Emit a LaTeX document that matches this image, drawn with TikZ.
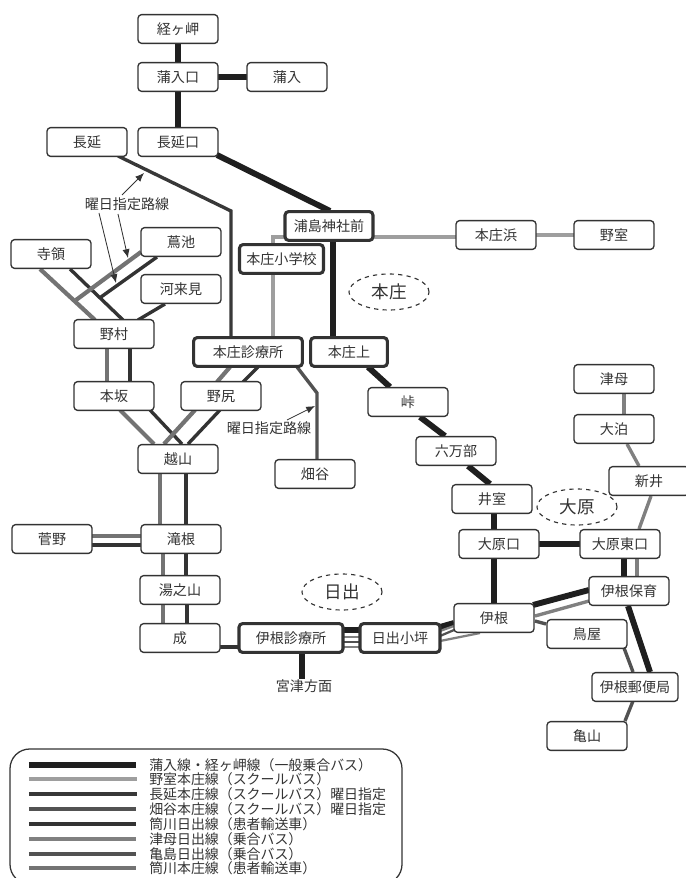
\documentclass[tikz,border=0pt]{standalone}
\usepackage{fontspec}
\setmainfont{Noto Sans CJK JP}
\usepackage{xcolor}
\usepackage{tikz}
\usetikzlibrary{shapes.geometric,arrows.meta,backgrounds}
\definecolor{moji}{HTML}{333333}
\begin{document}
\begin{tikzpicture}[
        x=0.025cm, y=-0.025cm,
        eki/.style={draw=moji, fill=white, line width=0.95pt, rounded corners=2.6pt, minimum width=2cm,
                    minimum height=0.72cm, inner sep=0pt, align=center, text=moji, font=\fontsize{10}{12}\selectfont},
        ekifuto/.style={eki, line width=2.2pt},
        chiku/.style={ellipse, draw=moji, dashed, line width=0.8pt, minimum width=2cm, minimum height=0.9cm,
                      inner sep=0pt, text=moji, font=\fontsize{12.5}{14}\selectfont},
        moji12/.style={text=moji, inner sep=0pt, font=\fontsize{10}{12}\selectfont},
        hanrei/.style={moji12, anchor=west, font=\fontsize{9.9}{11}\selectfont},
        yajirushi/.style={-{Latex[length=2.2mm,width=1.8mm]}, line width=0.6pt, draw=moji},
        kanyu/.style={line width=4.2pt, draw=black!88},
        nomurosen/.style={line width=2.5pt, draw=black!38},
        naganosen/.style={line width=2.4pt, draw=black!78},
        hatasen/.style={line width=2.4pt, draw=black!68},
        tsutsuhi/.style={line width=2.4pt, draw=black!80},
        tsumosen/.style={line width=2.4pt, draw=black!50},
        kamesen/.style={line width=2.4pt, draw=black!68},
        tsutsuhon/.style={line width=3pt, draw=black!55}
    ]
        \useasboundingbox (0,0) rectangle (685,878);

        \node[eki] (kyogamisaki)  at (178, 29)  {経ヶ岬};
        \node[eki] (kanyuguchi)   at (178, 77)  {蒲入口};
        \node[eki] (kanyu)        at (287, 77)  {蒲入};
        \node[eki] (nagano)       at (87,  142) {長延};
        \node[eki] (naganoguchi)  at (178, 142) {長延口};
        \node[ekifuto, minimum width=2.2cm] (urashima) at (329, 226) {浦島神社前};
        \node[eki] (honjohama)    at (496, 235) {本庄浜};
        \node[eki] (nomuro)       at (614, 235) {野室};
        \node[ekifuto, minimum width=2.1cm] (honjosho) at (281.5, 259) {本庄小学校};
        \node[eki] (tsutaike)     at (181, 242) {蔦池};
        \node[eki] (jiryo)        at (51,  254) {寺領};
        \node[eki] (kawakuru)     at (181, 289) {河来見};
        \node[eki] (nomura)       at (114, 334) {野村};
        \node[ekifuto, minimum width=2.72cm] (honjoshin) at (248, 352) {本庄診療所};
        \node[ekifuto, minimum width=1.92cm] (honjokami) at (349, 352) {本庄上};
        \node[eki] (honzaka)      at (114, 396) {本坂};
        \node[eki] (nojiri)       at (221, 396) {野尻};
        \node[eki] (touge)        at (408, 402) {峠};
        \node[eki] (rokumanbu)    at (456, 451) {六万部};
        \node[eki] (koshiyama)    at (178, 459) {越山};
        \node[eki] (hatadani)     at (315, 474) {畑谷};
        \node[eki] (imuro)        at (492, 499) {井室};
        \node[eki] (oharaguchi)   at (499, 544) {大原口};
        \node[eki] (oharahigashi) at (620, 544) {大原東口};
        \node[eki] (arai)         at (649, 481) {新井};
        \node[eki] (tsumo)        at (614, 379) {津母};
        \node[eki] (odomari)      at (614, 429) {大泊};
        \node[eki] (inehoiku)     at (629, 591) {伊根保育};
        \node[eki] (ine)          at (494, 618) {伊根};
        \node[eki] (toriya)       at (587, 634) {鳥屋};
        \node[eki, minimum width=2.15cm] (ineyubin) at (635, 687) {伊根郵便局};
        \node[eki] (kameyama)     at (587, 736) {亀山};
        \node[eki] (takine)       at (181, 539) {滝根};
        \node[eki] (sugano)       at (52,  539) {菅野};
        \node[eki] (yunoyama)     at (180, 590) {湯之山};
        \node[eki] (naru)         at (180, 638) {成};
        \node[ekifuto, minimum width=2.6cm] (ineshin) at (291, 638) {伊根診療所};
        \node[ekifuto, minimum width=2cm] (tsubo) at (400, 638) {日出小坪};
        \node[moji12] (miyazu)    at (304, 686) {宮津方面};

        \node[chiku] (honjo) at (389, 292) {本庄};
        \node[chiku] (ohara) at (577, 507) {大原};
        \node[chiku] (hiode) at (342, 592) {日出};

        \node[moji12] (youbi1) at (127, 204) {曜日指定路線};
        \node[moji12] (youbi2) at (269, 428) {曜日指定路線};
        \coordinate (naganomark) at (144, 173);
        \coordinate (tsutamark1) at (128, 258);
        \coordinate (tsutamark2) at (116, 283);
        \coordinate (hatamark)   at (315, 406);
        \coordinate (naganokado) at (231, 211);
        \coordinate (hatakado)   at (317, 393);
        \coordinate (shokado)    at (273, 237);

        \draw[yajirushi] ([shift={(-5,-9)}]youbi1.center) -- (naganomark);
        \draw[yajirushi] ([shift={(-9,10)}]youbi1.center) -- (tsutamark1);
        \draw[yajirushi] ([shift={(-28,9)}]youbi1.center) -- (tsutamark2);
        \draw[yajirushi] ([shift={(18,-8)}]youbi2.center) -- (hatamark);

        % legend
        \draw[moji, line width=0.9pt, rounded corners=14pt] (10,749) rectangle (402,884);
        \node[hanrei] (leg1) at (149, 765) {蒲入線・経ヶ岬線（一般乗合バス）};
        \node[hanrei] (leg2) at (149, 779) {野室本庄線（スクールバス）};
        \node[hanrei] (leg3) at (149, 794) {長延本庄線（スクールバス）曜日指定};
        \node[hanrei] (leg4) at (149, 809) {畑谷本庄線（スクールバス）曜日指定};
        \node[hanrei] (leg5) at (149, 824) {筒川日出線（患者輸送車）};
        \node[hanrei] (leg6) at (149, 839) {津母日出線（乗合バス）};
        \node[hanrei] (leg7) at (149, 854) {亀島日出線（乗合バス）};
        \node[hanrei] (leg8) at (149, 868) {筒川本庄線（患者輸送車）};
        \draw[kanyu, line width=3.6pt] ([xshift=-3cm]leg1.west) -- ([xshift=-0.33cm]leg1.west);
        \draw[nomurosen] ([xshift=-3cm]leg2.west) -- ([xshift=-0.3cm]leg2.west);
        \draw[naganosen] ([xshift=-3cm]leg3.west) -- ([xshift=-0.3cm]leg3.west);
        \draw[hatasen] ([xshift=-3cm]leg4.west) -- ([xshift=-0.33cm]leg4.west);
        \draw[tsutsuhi] ([xshift=-3cm]leg5.west) -- ([xshift=-0.33cm]leg5.west);
        \draw[tsumosen] ([xshift=-3cm]leg6.west) -- ([xshift=-0.33cm]leg6.west);
        \draw[kamesen] ([xshift=-3cm]leg7.west) -- ([xshift=-0.33cm]leg7.west);
        \draw[tsutsuhon] ([xshift=-3cm]leg8.west) -- ([xshift=-0.33cm]leg8.west);

        \begin{scope}[on background layer]
        % general bus
        \draw[kanyu] (kyogamisaki.center) -- (kanyuguchi.center);
        \draw[kanyu] (kanyuguchi.center) -- (naganoguchi.center);
        \draw[kanyu] (kanyuguchi.center) -- (kanyu.center);
        \draw[kanyu] ([shift={(39,13)}]naganoguchi.center) -- ([shift={(1,-15)}]urashima.center);
        \draw[kanyu] ([shift={(4,0)}]urashima.center) -- ([shift={(-16,0)}]honjokami.center);
        \draw[kanyu] ([shift={(19,15)}]honjokami.center) -- ([shift={(-18,-15)}]touge.center);
        \draw[kanyu] ([shift={(12,15)}]touge.center) -- ([shift={(-11,-15)}]rokumanbu.center);
        \draw[kanyu] ([shift={(12,15)}]rokumanbu.center) -- ([shift={(-2,-15)}]imuro.center);
        \draw[kanyu] ([shift={(2,0)}]imuro.center) -- ([shift={(-5,0)}]oharaguchi.center);
        \draw[kanyu] ([shift={(-5,0)}]oharaguchi.center) -- (ine.center);
        \draw[kanyu] (oharaguchi.center) -- (oharahigashi.center);
        \draw[kanyu] ([shift={(4,0)}]oharahigashi.center) -- ([shift={(-5,0)}]inehoiku.center);
        \draw[kanyu] ([shift={(39,-13)}]ine.center) -- ([shift={(-40,-1)}]inehoiku.center);
        \draw[kanyu] ([shift={(-1,15)}]inehoiku.center) -- ([shift={(15,-15)}]ineyubin.center);
        \draw[kanyu] ([shift={(40,-11)}]tsubo.center) -- ([shift={(-40,5)}]ine.center);
        \draw[kanyu] ([shift={(0,-8)}]ineshin.center) -- ([shift={(0,-8)}]tsubo.center);
        \draw[kanyu] ([shift={(11,0)}]ineshin.center) -- ([shift={(-2,-7)}]miyazu.center);
        % school bus
        \draw[nomurosen] ([shift={(0,11)}]urashima.center) -- (shokado) -- (honjosho.center -| shokado);
        \draw[nomurosen] (honjosho.center -| shokado) -- (honjoshin.center -| shokado);
        \draw[nomurosen] ([shift={(0,11)}]urashima.center) -- ([shift={(0,2)}]honjohama.center);
        \draw[nomurosen] (honjohama.center) -- (nomuro.center);
        % weekday routes
        \draw[naganosen] ([shift={(31,14)}]nagano.center) -- (naganokado) -- (honjoshin.center -| naganokado);
        \draw[hatasen] ([shift={(49,15)}]honjoshin.center) -- (hatakado) -- ([shift={(2,-15)}]hatadani.center);
        % tsutsukawa, kita side
        \draw[tsutsuhon] ([shift={(-11,15)}]jiryo.center) -- ([shift={(-19,-14)}]nomura.center);
        \draw[tsutsuhi] ([shift={(19,15)}]jiryo.center) -- ([shift={(9,-14)}]nomura.center);
        \draw[tsutsuhon] ([shift={(-40,10)}]tsutaike.center) -- ([shift={(-38,-34)}]nomura.center);
        \draw[tsutsuhi] ([shift={(-24,15)}]tsutaike.center) -- ([shift={(-13,-37)}]nomura.center);
        \draw[tsutsuhi] ([shift={(-16,15)}]kawakuru.center) -- ([shift={(24,-14)}]nomura.center);
        \draw[tsutsuhon] ([shift={(-7,0)}]nomura.center) -- ([shift={(-7,0)}]honzaka.center);
        \draw[tsutsuhi] ([shift={(16,0)}]nomura.center) -- ([shift={(16,0)}]honzaka.center);
        \draw[tsutsuhon] ([shift={(6,14)}]honzaka.center) -- ([shift={(-24,-15)}]koshiyama.center);
        \draw[tsutsuhi] ([shift={(36,14)}]honzaka.center) -- ([shift={(4,-15)}]koshiyama.center);
        \draw[tsutsuhon] ([shift={(-18,15)}]honjoshin.center) -- ([shift={(-4,-14)}]nojiri.center);
        \draw[tsutsuhi] ([shift={(10,15)}]honjoshin.center) -- ([shift={(22,-14)}]nojiri.center);
        \draw[tsutsuhon] ([shift={(-26,14)}]nojiri.center) -- ([shift={(-14,-15)}]koshiyama.center);
        \draw[tsutsuhi] ([shift={(-1,14)}]nojiri.center) -- ([shift={(10,-15)}]koshiyama.center);
        % tsutsukawa, south side
        \draw[tsutsuhon] ([shift={(-18,0)}]koshiyama.center) -- ([shift={(-21,0)}]takine.center);
        \draw[tsutsuhi] ([shift={(8,0)}]koshiyama.center) -- ([shift={(5,0)}]takine.center);
        \draw[tsutsuhon] ([shift={(-18,0)}]takine.center) -- ([shift={(-17,0)}]yunoyama.center);
        \draw[tsutsuhi] ([shift={(5,0)}]takine.center) -- ([shift={(6,0)}]yunoyama.center);
        \draw[tsutsuhon] ([shift={(-17,0)}]yunoyama.center) -- ([shift={(-17,0)}]naru.center);
        \draw[tsutsuhi] ([shift={(7,0)}]yunoyama.center) -- ([shift={(7,0)}]naru.center);
        \draw[tsutsuhon] ([shift={(0,-3)}]sugano.center) -- ([shift={(0,-3)}]takine.center);
        \draw[tsutsuhi] ([shift={(0,6)}]sugano.center) -- ([shift={(0,6)}]takine.center);
        \draw[tsutsuhi] ([shift={(0,9)}]naru.center) -- ([shift={(0,9)}]ineshin.center);
        % three thin lines to ine
        \draw[tsumosen, line width=1.6pt] ([shift={(0,-1)}]ineshin.center) -- ([shift={(0,-1)}]tsubo.center);
        \draw[kamesen, line width=1.6pt] ([shift={(0,4)}]ineshin.center) -- ([shift={(0,4)}]tsubo.center);
        \draw[tsumosen, line width=1.6pt] ([shift={(0,9)}]ineshin.center) -- ([shift={(0,9)}]tsubo.center);
        \draw[tsumosen, line width=1.6pt] ([shift={(40,-7)}]tsubo.center) -- ([shift={(-40,8)}]ine.center);
        \draw[kamesen, line width=1.6pt] ([shift={(40,-2)}]tsubo.center) -- ([shift={(-40,12)}]ine.center);
        \draw[tsumosen, line width=1.6pt] ([shift={(40,3)}]tsubo.center) -- ([shift={(-14,15)}]ine.center);
        % north east
        \draw[tsumosen] ([shift={(41,-2)}]ine.center) -- ([shift={(-40,10)}]inehoiku.center);
        \draw[tsumosen] ([shift={(8,0)}]inehoiku.center) -- ([shift={(17,0)}]oharahigashi.center);
        \draw[tsumosen] ([shift={(-10,-15)}]oharahigashi.center -| arai.center) -- ([shift={(2,15)}]arai.center);
        \draw[tsumosen] ([shift={(-10,-15)}]arai.center) -- ([shift={(13,15)}]odomari.center);
        \draw[tsumosen] ([shift={(10,15)}]tsumo.center) -- ([shift={(10,-15)}]odomari.center);
        \draw[kamesen] ([shift={(41,3)}]ine.center) -- ([shift={(-41,-10)}]toriya.center);
        \draw[kamesen] ([shift={(37,14)}]toriya.center) -- ([shift={(-2,-15)}]ineyubin.center);
        \draw[kamesen] ([shift={(-2,14)}]ineyubin.center) -- ([shift={(38,-15)}]kameyama.center);
        \end{scope}
    \end{tikzpicture}
\end{document}
